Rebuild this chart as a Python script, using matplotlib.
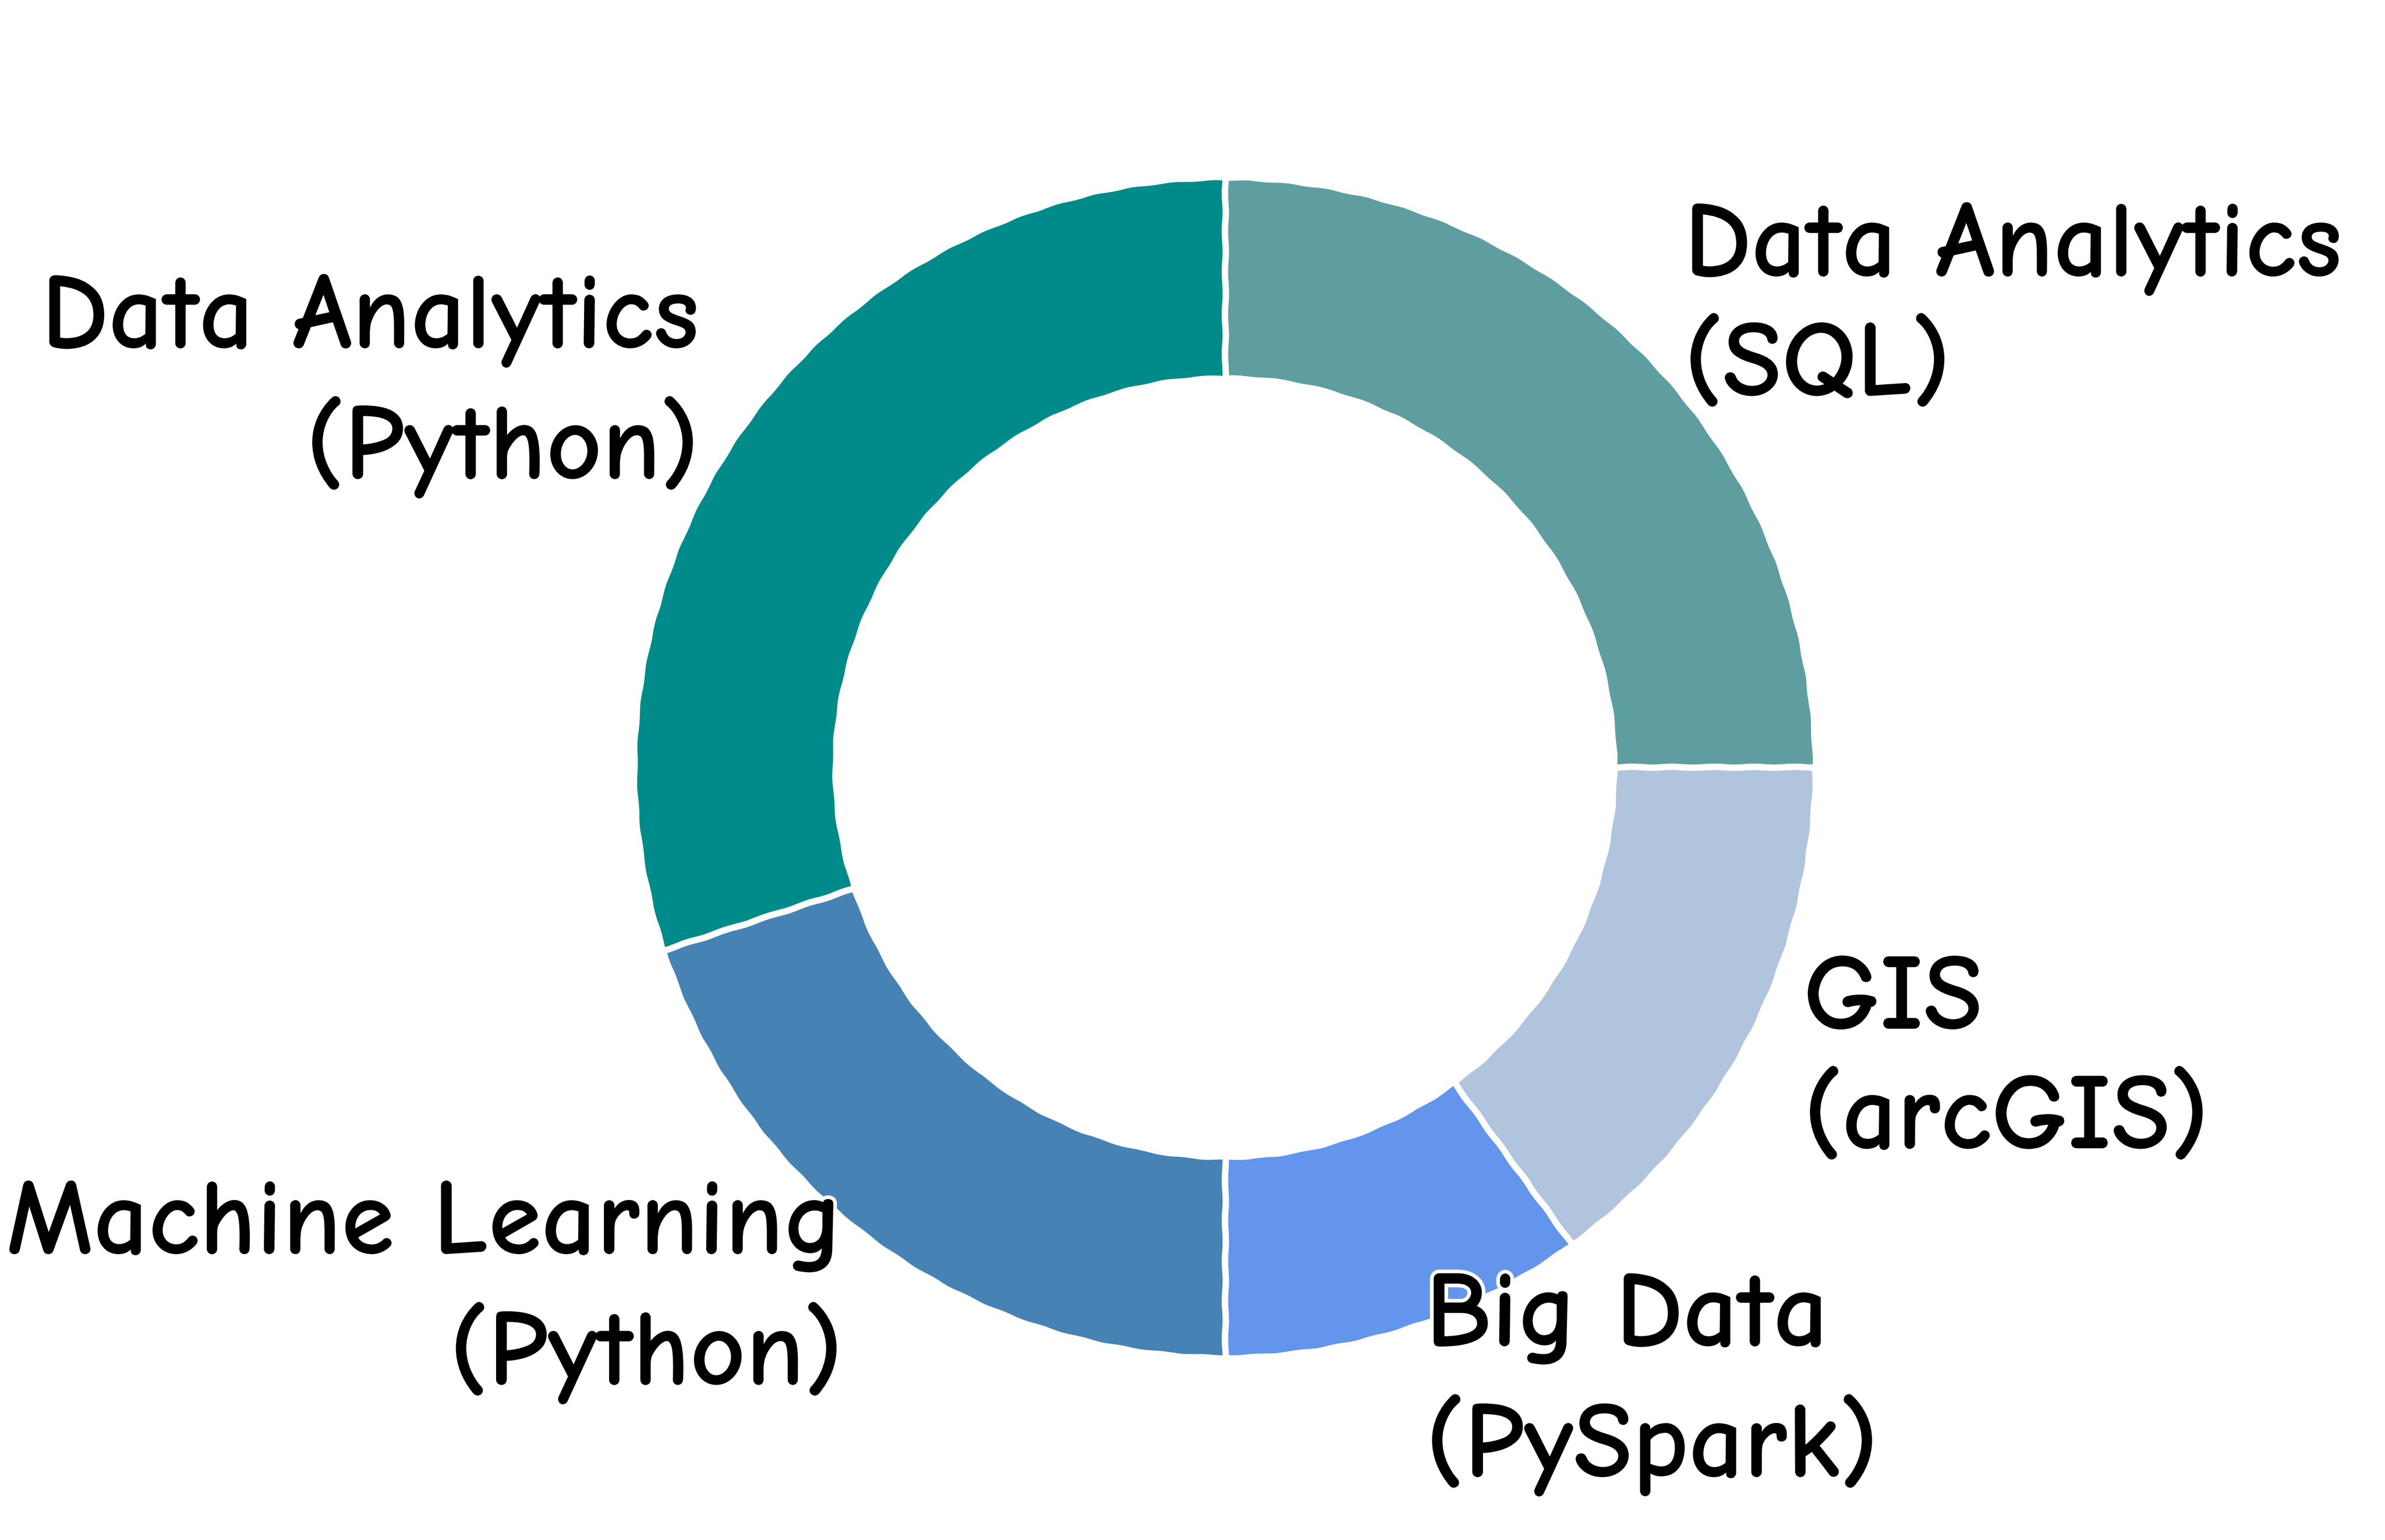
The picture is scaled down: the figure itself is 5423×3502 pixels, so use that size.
import matplotlib
matplotlib.use("Agg")
import matplotlib.pyplot as plt
import logging

logging.getLogger("matplotlib.font_manager").setLevel(logging.ERROR)

# skill areas, clockwise from the top
labels = ["Data Analytics\n(SQL)", "GIS\n(arcGIS)", "Big Data\n(PySpark)",
          "Machine Learning\n(Python)", "Data Analytics\n(Python)"]
shares = [25, 15, 10, 20, 30]
colors = ["cadetblue", "lightsteelblue", "cornflowerblue", "steelblue", "darkcyan"]

plt.xkcd()
plt.rcParams['font.family'] = ['Comic Neue', 'DejaVu Sans']

fig = plt.figure(figsize=(5424 / 300, 3503 / 300), dpi=300)
ax = fig.add_axes([0, 0, 1, 1])
ax.pie(shares, labels=labels, colors=colors, startangle=90, counterclock=False,
       labeldistance=1.1,
       wedgeprops=dict(width=0.34, edgecolor="white", linewidth=3),
       textprops=dict(fontsize=59, fontweight="bold", linespacing=1.35))
ax.set_aspect("auto")
ax.set_xlim(-2.075, 1.966)
ax.set_ylim(-1.309, 1.302)
ax.axis("off")

fig.savefig("out.png", dpi=300, facecolor="white")
